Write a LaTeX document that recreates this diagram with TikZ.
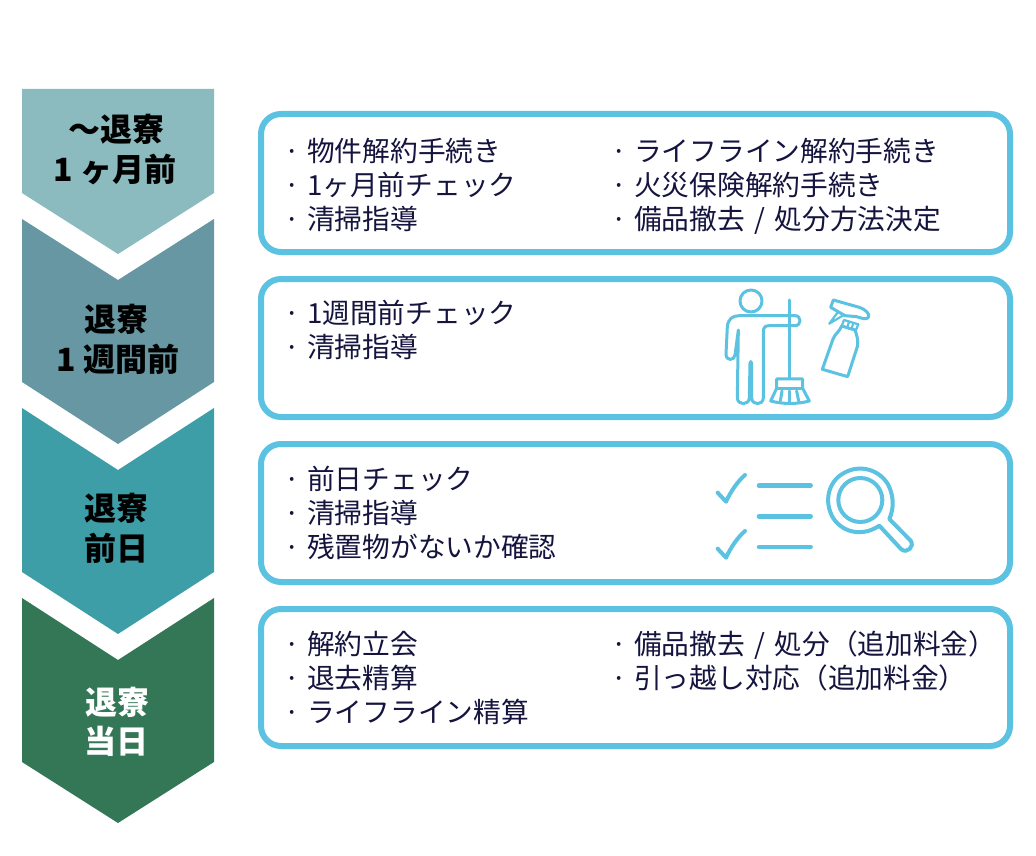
\documentclass[tikz,border=0pt]{standalone}
\usepackage{fontspec}
\setmainfont{Noto Sans CJK JP}
\definecolor{cA}{HTML}{8BBABF}
\definecolor{cB}{HTML}{6697A2}
\definecolor{cC}{HTML}{3E9EA8}
\definecolor{cD}{HTML}{347756}
\definecolor{sky}{HTML}{5BC2E1}
\definecolor{navy}{HTML}{14143F}
\newcommand{\slashgap}{\hspace{0.34em}/\hspace{0.34em}}
\tikzset{
  panel/.style={draw=sky,line width=6pt,rounded corners=20pt,fill=white},
  item/.style={anchor=base west,inner sep=0pt,text=navy,font=\fontsize{27.7}{27.7}\selectfont},
  dot/.style={anchor=base,inner sep=0pt,text=navy,font=\fontsize{27.7}{27.7}\selectfont},
  tag/.style={anchor=base,inner sep=0pt,font=\fontsize{32}{32}\selectfont\bfseries},
  icon/.style={draw=sky,line width=3pt,line cap=round,line join=round},
  fineicon/.style={draw=sky,line width=2.2pt,line cap=round,line join=round},
  tick/.style={draw=sky,line width=4pt,line cap=round,line join=round},
  rule/.style={draw=sky,line width=4.5pt,line cap=round}
}
\begin{document}
\begin{tikzpicture}[x=1pt,y=-1pt]
\useasboundingbox (0,0) rectangle (1036,856);
% chevrons
\fill[cA] (22,89) -- (214,89) -- (214,193) -- (118,254) -- (22,193) -- cycle;
\fill[cB] (22,219) -- (118,280) -- (214,219) -- (214,382) -- (118,444) -- (22,382) -- cycle;
\fill[cC] (22,408) -- (118,470) -- (214,408) -- (214,572) -- (118,634) -- (22,572) -- cycle;
\fill[cD] (22,598) -- (118,660) -- (214,598) -- (214,762) -- (118,823) -- (22,762) -- cycle;
\node[tag] (t1a) at (116,142) {〜退寮};
\node[tag] (t1b) at (115,182) {1 ヶ月前};
\node[tag] (t2a) at (116,331) {退寮};
\node[tag] (t2b) at (118,371) {1 週間前};
\node[tag] (t3a) at (116,520) {退寮};
\node[tag] (t3b) at (116,560) {前日};
\node[tag,text=white] (t4a) at (117,714) {退寮};
\node[tag,text=white] (t4b) at (116,753) {当日};
% panels
\draw[panel] (261,114) rectangle (1010,252);
\draw[panel] (261,279) rectangle (1010,417);
\draw[panel] (261,444) rectangle (1010,582);
\draw[panel] (261,609) rectangle (1010,746);
% panel 1
\foreach \n/\y in {a/161,b/195,c/229}{\node[dot] (d1\n) at (292,\y) {·};}
\foreach \n/\y in {a/161,b/195,c/229}{\node[dot] (e1\n) at (619,\y) {·};}
\node[item] (l1a) at (307,161) {物件解約手続き};
\node[item] (l1b) at (307,195) {1ヶ月前チェック};
\node[item] (l1c) at (307,229) {清掃指導};
\node[item] (r1a) at (634,161) {ライフライン解約手続き};
\node[item] (r1b) at (634,195) {火災保険解約手続き};
\node[item] (r1c) at (634,229) {備品撤去\slashgap 処分方法決定};
% panel 2
\foreach \n/\y in {a/323.5,b/357.5}{\node[dot] (d2\n) at (292,\y) {·};}
\node[item] (l2a) at (307,323.5) {1週間前チェック};
\node[item] (l2b) at (307,357.5) {清掃指導};
% panel 3
\foreach \n/\y in {a/489,b/523,c/557}{\node[dot] (d3\n) at (292,\y) {·};}
\node[item] (l3a) at (307,489) {前日チェック};
\node[item] (l3b) at (307,523) {清掃指導};
\node[item] (l3c) at (307,557) {残置物がないか確認};
% panel 4
\foreach \n/\y in {a/654,b/688,c/722}{\node[dot] (d4\n) at (292,\y) {·};}
\foreach \n/\y in {a/654,b/688}{\node[dot] (e4\n) at (619,\y) {·};}
\node[item] (l4a) at (307,654) {解約立会};
\node[item] (l4b) at (307,688) {退去精算};
\node[item] (l4c) at (307,722) {ライフライン精算};
\node[item] (r4a) at (634,654) {備品撤去\slashgap 処分（追加料金）};
\node[item] (r4b) at (634,688) {引っ越し対応（追加料金）};
% icons, in 3x zoom coordinates
\begin{scope}[x=0.33333pt,y=-0.33333pt,shift={(2100,825)}]
  % person
  \draw[icon] (153,78) circle (33);
  \draw[icon] (115,165) -- (105,240) .. controls (103,258) and (78,258) .. (78,238)
    -- (82,155) .. controls (84,132) and (98,122) .. (118,122)
    -- (285,122) .. controls (305,122) and (305,152) .. (285,152)
    -- (207,152) .. controls (195,152) and (190,158) .. (190,170)
    -- (190,368) .. controls (190,392) and (155,392) .. (155,368)
    -- (155,265) .. controls (155,258) and (150,258) .. (150,265)
    -- (148,368) .. controls (148,392) and (112,392) .. (112,368) -- cycle;
  % broom
  \draw[icon] (268,75) -- (268,310);
  \draw[icon] (230,312) -- (308,312) -- (308,340) -- (328,378)
    .. controls (290,388) and (250,388) .. (212,378) -- (230,340) -- cycle;
  \draw[icon] (230,340) -- (308,340);
  \draw[icon] (246,348) -- (241,378);
  \draw[icon] (268,348) -- (268,381);
  \draw[icon] (290,348) -- (296,378);
  % bottle
  \draw[icon] (367,283) -- (443,305) -- (472,215) .. controls (476,195) and (470,180) .. (465,165)
    -- (425,153) .. controls (415,175) and (405,175) .. (398,195) -- cycle;
  \draw[fineicon] (432,135) -- (475,148) -- (468,165) -- (425,153) -- cycle;
  \draw[fineicon] (447,140) -- (442,157);
  \draw[fineicon] (460,144) -- (455,161);
  \draw[icon] (400,75) -- (478,97) .. controls (495,102) and (512,118) .. (505,127)
    .. controls (500,135) and (485,130) .. (470,125) -- (435,122)
    -- (392,97) -- cycle;
  \draw[fineicon] (413,112) -- (388,146) -- (428,122);
  % checks
  \draw[tick] (53,653) -- (78,680) .. controls (92,650) and (112,620) .. (135,600);
  \draw[tick] (53,821) -- (78,848) .. controls (92,818) and (112,788) .. (135,768);
  \draw[rule] (177,632) -- (332,632);
  \draw[rule] (177,724) -- (332,724);
  \draw[rule] (177,816) -- (332,816);
  % magnifier
  \draw[icon,line width=4pt] (481,675) circle (66);
  \draw[icon,line width=4pt] (568,732) -- (632,797) .. controls (645,815) and (620,838) .. (603,822)
    -- (538,752) .. controls (490,785) and (430,775) .. (400,730)
    .. controls (370,680) and (385,620) .. (430,595)
    .. controls (480,565) and (540,585) .. (565,630)
    .. controls (582,665) and (582,700) .. (568,732) -- cycle;
\end{scope}
\end{tikzpicture}
\end{document}
